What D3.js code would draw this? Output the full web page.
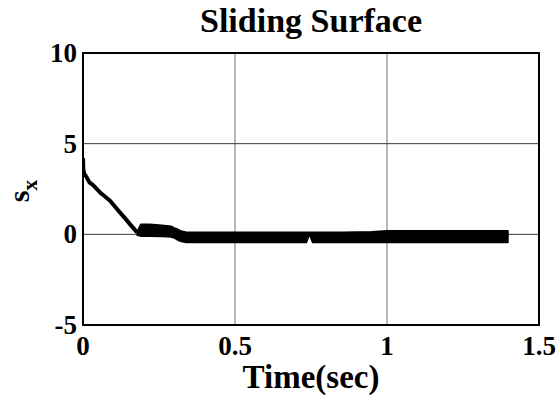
<!DOCTYPE html>
<html>
<head>
<meta charset="utf-8">
<script src="https://cdn.jsdelivr.net/npm/d3@7"></script>
<style>
  html, body { margin: 0; padding: 0; background: #fff; }
  svg { display: block; }
  text { font-family: "Liberation Serif", "Times New Roman", serif; font-weight: bold; fill: #000; }
</style>
</head>
<body>
<svg id="chart" width="560" height="400"></svg>
<script>
// Reaching phase of the sliding variable s_x
const reachTime = [0, 0.001, 0.004, 0.01, 0.022, 0.034, 0.06, 0.089, 0.104, 0.122, 0.14, 0.155, 0.168, 0.178];
const reachValue = [4.2, 3.6, 3.35, 3.2, 2.85, 2.7, 2.25, 1.85, 1.55, 1.2, 0.85, 0.55, 0.3, 0.1];

// Sliding phase: envelope of the chattering band around s_x = 0
const bandTime = [0.178, 0.19, 0.22, 0.26, 0.29, 0.30, 0.31, 0.32, 0.34, 0.37, 0.45, 0.55, 0.65, 0.72, 0.735, 0.745, 0.755, 0.77, 0.85, 0.95, 1.0, 1.05, 1.15, 1.25, 1.35, 1.398];
const bandUpper = [0.15, 0.55, 0.55, 0.5, 0.45, 0.35, 0.3, 0.2, 0.12, 0.12, 0.12, 0.12, 0.12, 0.12, 0.12, 0.12, 0.12, 0.12, 0.12, 0.14, 0.2, 0.2, 0.2, 0.2, 0.2, 0.2];
const bandLower = [-0.05, -0.1, -0.1, -0.12, -0.15, -0.2, -0.3, -0.38, -0.45, -0.45, -0.45, -0.45, -0.45, -0.45, -0.45, 0.0, -0.45, -0.45, -0.45, -0.45, -0.45, -0.45, -0.45, -0.45, -0.45, -0.45];

// Axis ticks
const xTicks = [0, 0.5, 1, 1.5];
const yTicks = [-5, 0, 5, 10];
const xTickLabels = ["0", "0.5", "1", "1.5"];
const yTickLabels = ["-5", "0", "5", "10"];

const margin = { left: 83, top: 53, right: 21, bottom: 75 };
const width = 560, height = 400;
const plotW = width - margin.left - margin.right;
const plotH = height - margin.top - margin.bottom;

const svg = d3.select("#chart");
const g = svg.append("g").attr("transform", `translate(${margin.left},${margin.top})`);

const x = d3.scaleLinear().domain([0, 1.5]).range([0, plotW]);
const y = d3.scaleLinear().domain([-5, 10]).range([plotH, 0]);

// Grid lines
g.append("g")
  .selectAll("line.vgrid")
  .data(xTicks.slice(1, -1))
  .join("line")
  .attr("x1", d => x(d)).attr("x2", d => x(d))
  .attr("y1", 0).attr("y2", plotH)
  .attr("stroke", "#6e6e6e").attr("stroke-width", 1);

g.append("g")
  .selectAll("line.hgrid")
  .data(yTicks.slice(1, -1))
  .join("line")
  .attr("x1", 0).attr("x2", plotW)
  .attr("y1", d => y(d)).attr("y2", d => y(d))
  .attr("stroke", "#3a3a3a").attr("stroke-width", 1);

const clip = g.append("clipPath").attr("id", "plotClip");
clip.append("rect").attr("width", plotW).attr("height", plotH);

const data = g.append("g").attr("clip-path", "url(#plotClip)");

// Chattering band
const band = bandTime.map((t, i) => ({ t, hi: bandUpper[i], lo: bandLower[i] }));
data.append("path")
  .datum(band)
  .attr("d", d3.area().x(d => x(d.t)).y0(d => y(d.lo)).y1(d => y(d.hi)))
  .attr("fill", "#000")
  .attr("stroke", "#000")
  .attr("stroke-width", 1.5)
  .attr("stroke-linejoin", "round");

// Reaching trajectory
const reach = reachTime.map((t, i) => ({ t, v: reachValue[i] }));
data.append("path")
  .datum(reach)
  .attr("d", d3.line().x(d => x(d.t)).y(d => y(d.v)))
  .attr("fill", "none")
  .attr("stroke", "#000")
  .attr("stroke-width", 4)
  .attr("stroke-linejoin", "round");

// Frame
g.append("rect")
  .attr("width", plotW).attr("height", plotH)
  .attr("fill", "none").attr("stroke", "#000").attr("stroke-width", 2);

// Tick labels
g.append("g")
  .selectAll("text")
  .data(xTicks)
  .join("text")
  .attr("x", d => x(d))
  .attr("y", plotH + 30)
  .attr("text-anchor", "middle")
  .attr("font-size", 27)
  .text((d, i) => xTickLabels[i]);

g.append("g")
  .selectAll("text")
  .data(yTicks)
  .join("text")
  .attr("x", -6)
  .attr("y", d => y(d))
  .attr("dy", "0.33em")
  .attr("text-anchor", "end")
  .attr("font-size", 27)
  .text((d, i) => yTickLabels[i]);

// Title
svg.append("text")
  .attr("x", margin.left + plotW / 2)
  .attr("y", 32)
  .attr("text-anchor", "middle")
  .attr("font-size", 34)
  .text("Sliding Surface");

// X axis label
svg.append("text")
  .attr("x", margin.left + plotW / 2)
  .attr("y", 388)
  .attr("text-anchor", "middle")
  .attr("font-size", 33)
  .text("Time(sec)");

// Y axis label: s with subscript x
const yl = svg.append("text")
  .attr("transform", "translate(29, 191) rotate(-90)")
  .attr("text-anchor", "middle")
  .attr("font-size", 30);
yl.append("tspan").text("s");
yl.append("tspan").attr("font-size", 22).attr("dy", 8).text("x");
</script>
</body>
</html>
